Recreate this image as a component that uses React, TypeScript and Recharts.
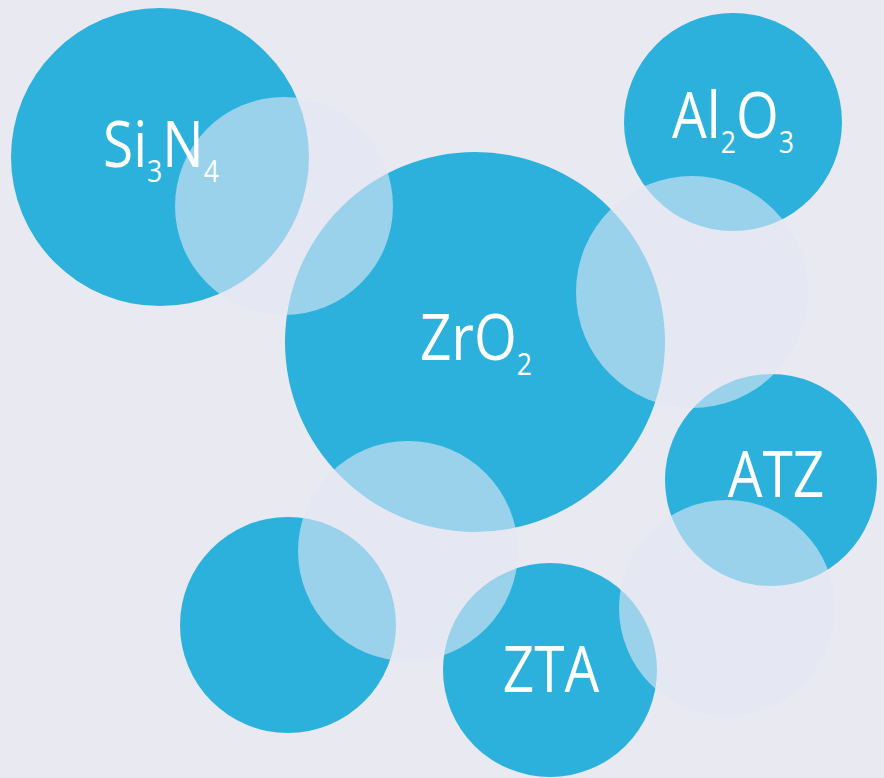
import React from 'react';
import { ScatterChart, Scatter, XAxis, YAxis } from 'recharts';

// solid (dark blue) bubbles, in picture units (x right, y down)
const solidLabels = ['Si3N4', 'Al2O3', 'ZrO2', 'ATZ', 'ZTA', ''];
const solidX = [160, 733, 475, 771, 550, 288];
const solidY = [157, 122, 342, 480, 670, 625];
const solidR = [149, 109, 190, 106, 107, 108];
// label anchor (centre x, baseline y)
const labelX = [161, 733, 476, 776, 551, 0];
const labelY = [167, 138, 360, 497, 692, 0];

// pale translucent bubbles laid over them
const paleX = [284, 692, 408, 727];
const paleY = [206, 292, 551, 608];
const paleR = [109, 116, 110, 108];

const W = 884;
const H = 778;

const solidData = solidLabels.map((label, i) => ({
  x: solidX[i],
  y: solidY[i],
  r: solidR[i],
  label,
  lx: labelX[i],
  ly: labelY[i],
}));
const paleData = paleX.map((x, i) => ({ x, y: paleY[i], r: paleR[i] }));
const labelData = solidData.filter((d) => d.label !== '').map((d) => ({ ...d, x: d.lx, y: d.ly }));

const SolidBubble = (props: any) => (
  <circle cx={props.cx} cy={props.cy} r={props.payload.r} fill="#2bb1db" />
);

const PaleBubble = (props: any) => (
  <circle cx={props.cx} cy={props.cy} r={props.payload.r} fill="#e2e8f4" fillOpacity={0.6} />
);

// digits become subscripts
const Label = (props: any) => {
  const parts = props.payload.label.match(/[A-Za-z]+|\d+/g) || [];
  return (
    <text
      x={props.cx}
      y={props.cy}
      textAnchor="middle"
      fill="#ffffff"
      fontFamily="'Open Sans', sans-serif"
      fontSize={64}
      transform={`translate(${props.cx},0) scale(0.86,1) translate(${-props.cx},0)`}
    >
      {parts.map((p: string, i: number) =>
        /\d/.test(p) ? (
          <tspan key={i} fontSize={31} dy={15}>
            {p}
          </tspan>
        ) : (
          <tspan key={i} dy={i > 0 ? -15 : 0}>
            {p}
          </tspan>
        )
      )}
    </text>
  );
};

const App: React.FC = () => (
  <div style={{ position: 'absolute', left: 0, top: 0, width: W, height: H, background: '#e9e9f1' }}>
    <ScatterChart width={W} height={H} margin={{ top: 0, right: 0, bottom: 0, left: 0 }}>
      <XAxis type="number" dataKey="x" domain={[0, W]} hide />
      <YAxis type="number" dataKey="y" domain={[0, H]} reversed hide />
      <Scatter data={solidData} shape={SolidBubble} isAnimationActive={false} />
      <Scatter data={paleData} shape={PaleBubble} isAnimationActive={false} />
      <Scatter data={labelData} shape={Label} isAnimationActive={false} />
    </ScatterChart>
  </div>
);

export default App;
